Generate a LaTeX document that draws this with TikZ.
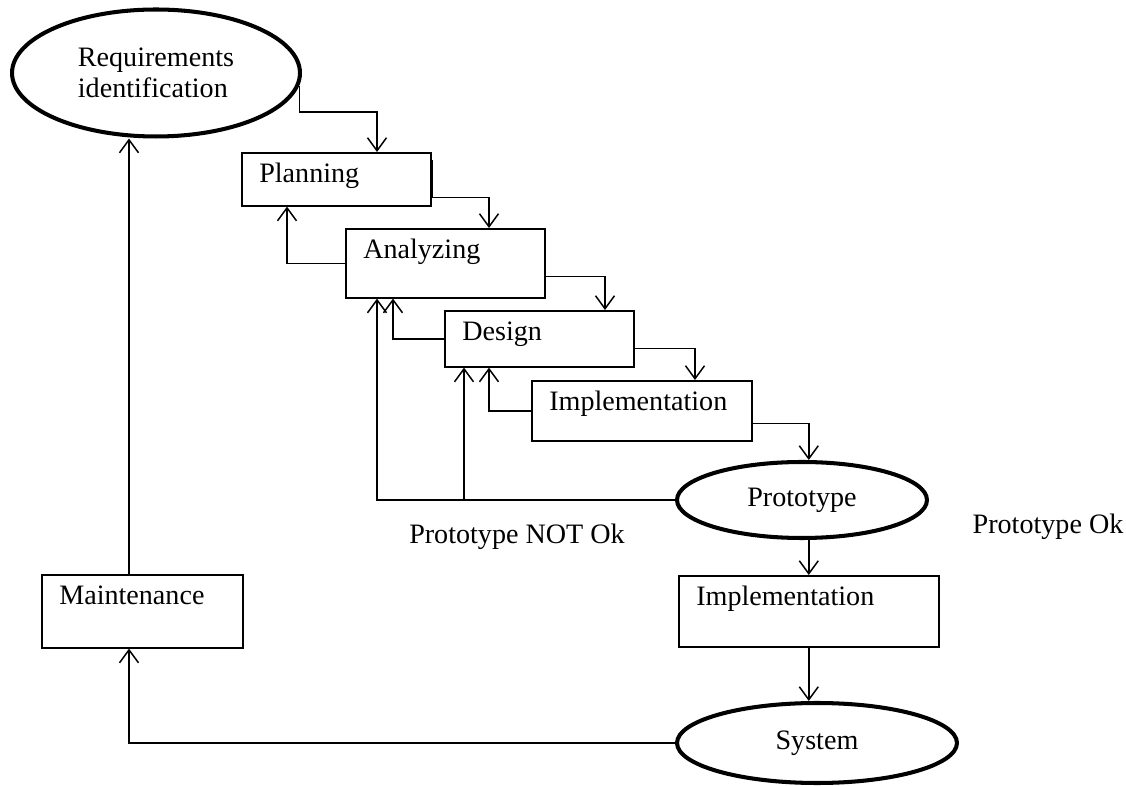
\documentclass[tikz,border=0pt]{standalone}
\usepackage{fontspec}
\setmainfont{Liberation Serif}
\usetikzlibrary{shapes.geometric,arrows.meta}
\begin{document}
\begin{tikzpicture}
[x=0.02cm,y=-0.02cm,
  every node/.style={font=\fontsize{16}{18}\selectfont},
  stagebox/.style={draw,line width=0.9pt,anchor=north west,align=left,
    inner xsep=0.35cm,inner ysep=0pt,text height=0.6cm},
  stateoval/.style={draw,ellipse,line width=2.3pt,inner sep=0pt},
  flowline/.style={line width=0.85pt,-{Straight Barb[length=2.6mm,width=3.8mm]}}]
\useasboundingbox (0,0) rectangle (1126,786);
%% rectangular stages
\foreach \nodename/\x/\y/\w/\h/\nodetext in {plan/241/152/189/53/Planning,
  ana/345/228/199/69/Analyzing, des/444/310/189/56/Design,
  impl/531/380/220/60/Implementation, implb/678/575/260/71/Implementation,
  maint/41/574/201/73/Maintenance} {
  \pgfmathsetmacro{\tw}{\w*0.02-0.7}
  \pgfmathsetmacro{\td}{\h*0.02-0.6}
  \node (\nodename) at (\x,\y) [stagebox,text width=\tw cm,text depth=\td cm] {\nodetext};
}
%% thicker piece on the planning box edge
\draw[line width=1.8pt] ([shift={(0,8)}]plan.north east) -- ([shift={(0,-10)}]plan.south east);
%% oval states
\node (req) at (156,73) [stateoval,minimum width=5.76cm,minimum height=2.54cm,align=left] {Requirements\\identification};
\node (proto) at (802,500) [stateoval,minimum width=5cm,minimum height=1.52cm] {Prototype};
\node (sys) at (817,743) [stateoval,minimum width=5.6cm,minimum height=1.6cm] {System};
%% labels
\node (notok) at (517,537) {Prototype NOT Ok};
\node (ok) at (1048,527) {Prototype Ok};
%% forward flow
\draw[flowline] (req.-5) |- ([shift={(136,-40)}]plan.north west) -- ([shift={(136,0)}]plan.north west);
\draw[flowline] ([shift={(0,-9)}]plan.south east) -| ([shift={(144,0)}]ana.north west);
\draw[flowline] ([shift={(0,-22)}]ana.south east) -| ([shift={(161,0)}]des.north west);
\draw[flowline] ([shift={(0,-19)}]des.south east) -| ([shift={(164,0)}]impl.north west);
\draw[flowline] ([shift={(0,-18)}]impl.south east) -| (implb.north |- proto.north);
\draw[flowline] (proto.south -| implb.north) -- (implb.north);
\draw[flowline] (implb.south) -- (implb.south |- sys.north);
%% feedback
\draw[flowline] (ana.west) -| ([shift={(46,0)}]plan.south west);
\draw[flowline] (des.west) -| ([shift={(48,0)}]ana.south west);
\draw[flowline] (impl.west) -| ([shift={(45,0)}]des.south west);
\draw[flowline] (proto.west) -| ([shift={(32,0)}]ana.south west);
\coordinate (nok) at ([shift={(20,0)}]des.south west);
\draw[flowline] (nok |- proto.west) -- (nok);
\draw[flowline] (sys.west) -| ([shift={(88,0)}]maint.south west);
\coordinate (mtop) at ([shift={(88,0)}]maint.north west);
\draw[flowline] (mtop) -- (mtop |- req.south);
\end{tikzpicture}
\end{document}
